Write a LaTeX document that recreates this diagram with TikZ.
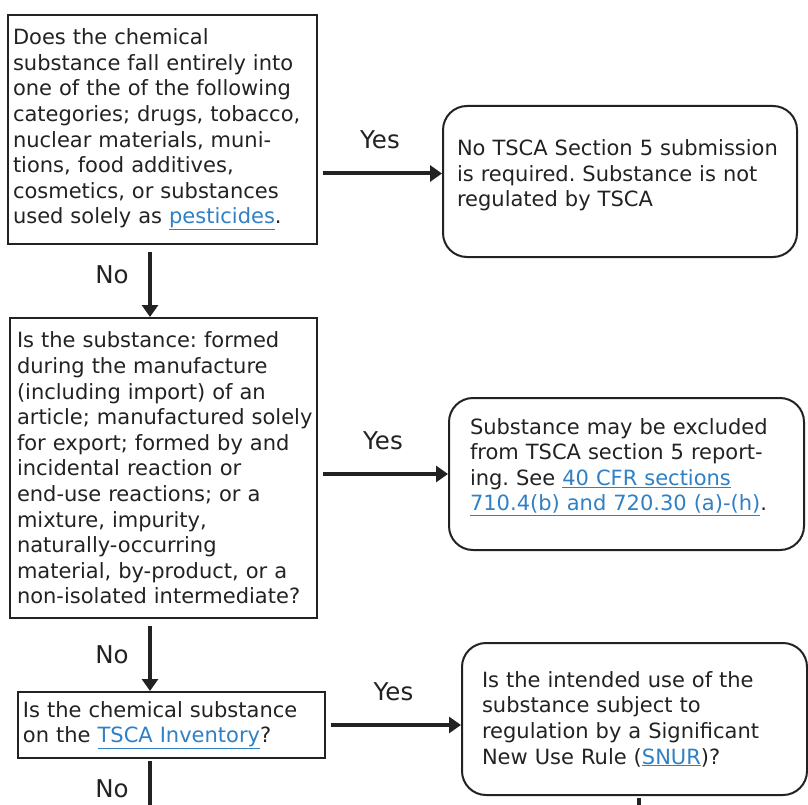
\documentclass[tikz,border=0pt]{standalone}
\usepackage{fontspec}
\setmainfont{DejaVu Sans}
\usetikzlibrary{arrows.meta}
\definecolor{linkblue}{HTML}{2F80C4}
\definecolor{ink}{HTML}{222222}
\newcommand{\lnk}[1]{\textcolor{linkblue}{\underline{#1}}}
\frenchspacing

\begin{document}
\begin{tikzpicture}[x=1pt, y=-1pt,
  qbox/.style={draw=ink, text=ink, line width=2pt, align=left, inner ysep=0pt,
    font=\fontsize{21}{25.6}\selectfont},
  endbox/.style={qbox, rounded corners=24pt},
  arr/.style={draw=ink, line width=4pt, -{Triangle[length=12pt,width=16pt]}, shorten <=5pt},
  lbl/.style={text=ink, font=\fontsize{24.5}{24.5}\selectfont}]
\useasboundingbox (0,0) rectangle (808,805);

% questions on the left
\node[qbox, inner xsep=5pt, text width=299pt, minimum height=229pt] (q1) at (162.5,129.5)
  {Does the chemical\\ substance fall entirely into\\ one of the of the following\\
   categories; drugs, tobacco,\\ nuclear materials, muni-\\ tions, food additives,\\
   cosmetics, or substances\\ used solely as \lnk{pesticides}.};
\node[qbox, inner xsep=7pt, text width=293pt, minimum height=300pt] (q2) at (163.5,468)
  {Is the substance: formed\\ during the manufacture\\ (including import) of an\\
   \mbox{article; manufactured solely}\\ for export; formed by and\\ incidental reaction or\\
   end-use reactions; or a\\ mixture, impurity,\\ naturally-occurring\\
   material, by-product, or a\\ non-isolated intermediate?};
\node[qbox, inner xsep=5pt, text width=297pt, minimum height=66pt] (q3) at (171.5,725)
  {Is the chemical substance\\ on the \lnk{TSCA Inventory}?};

% answers on the right
\node[endbox, inner xsep=14pt, text width=326pt, minimum height=151pt] (r1) at (620,181.5)
  {No TSCA Section 5 submission\\ is required. Substance is not\\ regulated by TSCA\par\vspace*{12pt}};
\node[endbox, inner xsep=21pt, text width=313pt, minimum height=152pt] (r2) at (626.5,474)
  {Substance may be excluded\\ from TSCA section 5 report-\\ ing. See \lnk{40 CFR sections}\\
   \lnk{710.4(b) and 720.30 (a)-(h)}.\par\vspace*{14pt}};
\node[endbox, inner xsep=20pt, text width=305pt, minimum height=152pt] (r3) at (634.5,719)
  {Is the intended use of the\\ substance subject to\\ regulation by a Significant\\
   New Use Rule (\lnk{SNUR})?};

\coordinate (nxt) at (150,818);
\coordinate (snur) at (639,830);

% yes branches
\draw[arr] ([yshift=8pt]r1.west -| q1.east) -- ([yshift=8pt]r1.west)
  node[lbl, midway, above=19pt] {Yes};
\draw[arr] (q2.east |- r2.west) -- (r2.west)
  node[lbl, midway, above=19pt] {Yes};
\draw[arr] (q3.east) -- (q3.east -| r3.west)
  node[lbl, midway, above=19pt] {Yes};

% no branches
\draw[arr, shorten <=7pt] ([xshift=-12.5pt]q1.south) -- ([xshift=-12.5pt]q1.south |- q2.north)
  node[lbl, midway, left=16pt, yshift=6pt] {No};
\draw[arr, shorten <=7pt] ([xshift=-13.5pt]q2.south) -- ([xshift=-13.5pt]q2.south |- q3.north)
  node[lbl, midway, left=16pt] {No};
\draw[arr, shorten <=2pt] (q3.south -| nxt) -- (nxt)
  node[lbl, midway, left=16pt] {No};
\draw[arr, shorten <=2pt] (r3.south -| snur) -- (snur);

\end{tikzpicture}
\end{document}
